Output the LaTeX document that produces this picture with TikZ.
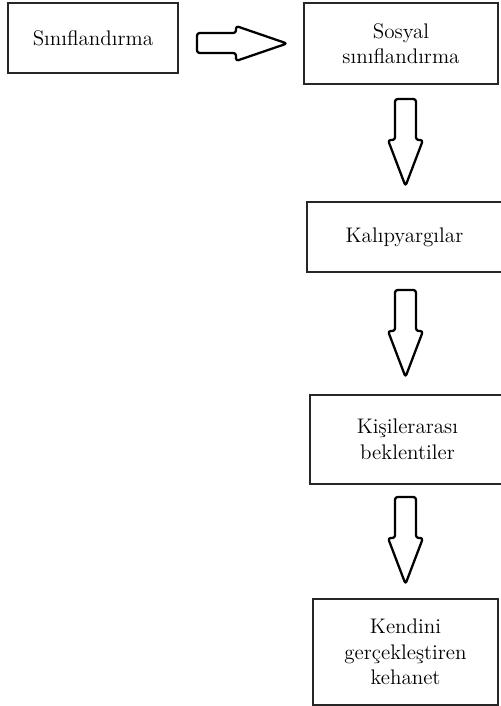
\documentclass[tikz,border=0pt]{standalone}
\usepackage{fontspec}
\usepackage{tikz}

\begin{document}
\begin{tikzpicture}
  [x=0.02cm,y=-0.02cm,
   every node/.style={draw=black!85,line width=.6pt,rectangle,align=center,
     font=\fontsize{12}{14.5}\selectfont,inner sep=2pt},
   blockarrow/.style={draw=black,line width=1.3pt,rounded corners=1.5pt,line join=round}]
  \useasboundingbox (0,0) rectangle (500,706);

  \node[minimum width=3.4cm,minimum height=1.4cm]  (sinif)  at (93,38)    {S\i n\i flandırma};
  \node[minimum width=3.88cm,minimum height=1.62cm] (sosyal) at (401,43.5) {Sosyal\\sınıflandırma};
  \node[minimum width=3.9cm,minimum height=1.4cm]  (kalip)  at (404.5,237) {Kalıpyargılar};
  \node[minimum width=3.9cm,minimum height=1.78cm] (kisi)   at (407.5,439.5) {Kişilerarası\\beklentiler};
  \node[minimum width=3.7cm,minimum height=2.12cm] (kehanet) at (405.5,652) {Kendini\\gerçekleştiren\\kehanet};

  \draw[blockarrow] (197,33) -- (236,33) -- (236,26) -- (287,43.5)
    -- (236,61) -- (236,53) -- (197,53) -- cycle;

  \foreach \t in {99,290,497}
    \draw[blockarrow] (395,\t) -- (416,\t) -- (416,\t+41) -- (423,\t+41)
      -- (405.5,\t+87) -- (388,\t+41) -- (395,\t+41) -- cycle;

\end{tikzpicture}
\end{document}
